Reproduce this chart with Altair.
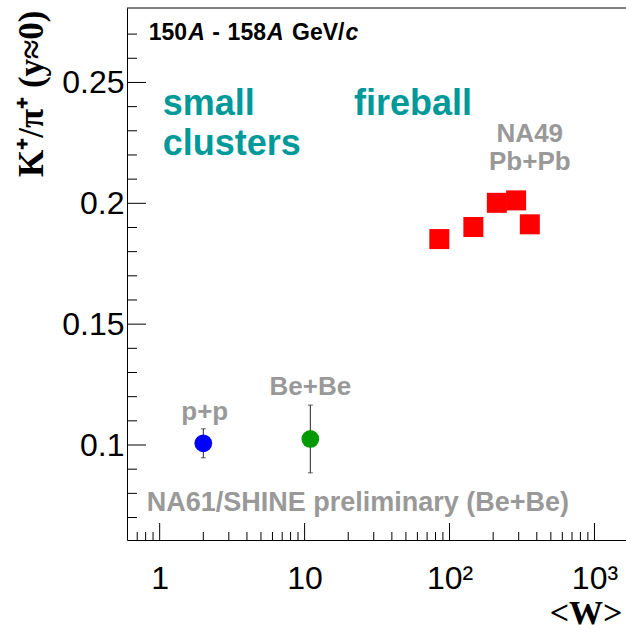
import altair as alt
import pandas as pd

# ---- data -------------------------------------------------------------
# NA49 Pb+Pb (158A GeV/c)
pb_w = [85, 146, 212, 288, 358]
pb_ratio = [0.1852, 0.1902, 0.2002, 0.2012, 0.1913]

# NA61/SHINE p+p and Be+Be
pp_w = [2.0]
pp_ratio = [0.1007]
pp_err = [0.0060]

bebe_w = [10.95]
bebe_ratio = [0.1025]
bebe_err = [0.0140]

# axis ticks
x_major = [1, 10, 100, 1000]
x_major_labels = ["1", "10", "10²", "10³"]
x_minor = [0.7, 0.8, 0.9] + [m * d for d in (1, 10, 100) for m in range(2, 10)]
y_major = [0.1, 0.15, 0.2, 0.25]
y_minor = [round(0.07 + 0.01 * i, 2) for i in range(21)]
y_minor = [v for v in y_minor if v not in y_major]

# ---- layout -----------------------------------------------------------
W, H = 499, 532
XDOM = [0.595, 1650]
YDOM = [0.0607, 0.2808]

xs = alt.Scale(type="log", domain=XDOM, nice=False)
ys = alt.Scale(domain=YDOM, nice=False, zero=False)

SANS = "Liberation Sans"
SERIF = "Liberation Serif"
GRAY = "#999999"
TEAL = "#009999"

x_label_expr = " : ".join(
    f"datum.value == {v} ? '{t}'" for v, t in zip(x_major[:-1], x_major_labels[:-1])
) + f" : '{x_major_labels[-1]}'"

# one axis definition shared by every layer so the layers merge cleanly
X_AXIS = alt.Axis(
    values=x_major, labelExpr=x_label_expr, ticks=False, tickSize=0, grid=False,
    domain=True, domainColor="black", domainWidth=1,
    labelFont=SANS, labelFontSize=32, labelColor="black", labelPadding=23,
    labelFlush=False, labelOverlap=False,
    title="<W>", titleFont=SERIF, titleFontSize=34, titleFontWeight="bold",
    titleColor="black", titleAlign="right", titleAnchor="end",
    titleBaseline="alphabetic", titleX=W - 4, titleY=83)
Y_AXIS = alt.Axis(
    values=y_major, format=".2~f", ticks=False, tickSize=0, grid=False,
    domain=True, domainColor="black", domainWidth=1,
    labelFont=SANS, labelFontSize=32, labelColor="black", labelPadding=3,
    labelFlush=False, labelOverlap=False, labelBaseline="middle",
    title="K⁺/π⁺ (y≈0)", titleFont=SERIF, titleFontSize=35, titleFontWeight="bold",
    titleColor="black", titleAngle=270, titleAlign="right", titleAnchor="end",
    titleBaseline="alphabetic", titleX=-85, titleY=2)


def xq(field):
    return alt.X(f"{field}:Q", scale=xs, axis=X_AXIS)


def yq(field):
    return alt.Y(f"{field}:Q", scale=ys, axis=Y_AXIS)


# inward ticks (ROOT style)
ytick_major = alt.Chart(pd.DataFrame({"v": y_major})).mark_rule(color="black", strokeWidth=1).encode(
    y=yq("v"), x=alt.value(0), x2=alt.value(19))
ytick_minor = alt.Chart(pd.DataFrame({"v": y_minor})).mark_rule(color="black", strokeWidth=1).encode(
    y=yq("v"), x=alt.value(0), x2=alt.value(10))
xtick_major = alt.Chart(pd.DataFrame({"v": x_major})).mark_rule(color="black", strokeWidth=1).encode(
    x=xq("v"), y=alt.value(H - 17), y2=alt.value(H))
xtick_minor = alt.Chart(pd.DataFrame({"v": x_minor})).mark_rule(color="black", strokeWidth=1).encode(
    x=xq("v"), y=alt.value(H - 8), y2=alt.value(H))
top_line = alt.Chart(pd.DataFrame({"v": [0]})).mark_rule(color="black", strokeWidth=1).encode(
    x=alt.value(0), x2=alt.value(W), y=alt.value(0))

# error bars
err_df = pd.DataFrame({
    "w": pp_w + bebe_w,
    "lo": [r - e for r, e in zip(pp_ratio + bebe_ratio, pp_err + bebe_err)],
    "hi": [r + e for r, e in zip(pp_ratio + bebe_ratio, pp_err + bebe_err)],
})
err_rule = alt.Chart(err_df).mark_rule(color="#222222", strokeWidth=1).encode(
    x=xq("w"), y=yq("lo"), y2=alt.Y2("hi"))
cap_df = pd.DataFrame({"w": list(err_df["w"]) * 2, "v": list(err_df["lo"]) + list(err_df["hi"])})
err_caps = alt.Chart(cap_df).mark_tick(color="#222222", orient="horizontal", size=5, thickness=1).encode(
    x=xq("w"), y=yq("v"))

# markers
pp_pts = alt.Chart(pd.DataFrame({"w": pp_w, "r": pp_ratio})).mark_circle(
    size=314, color="#0000ff", opacity=1).encode(x=xq("w"), y=yq("r"))
bebe_pts = alt.Chart(pd.DataFrame({"w": bebe_w, "r": bebe_ratio})).mark_circle(
    size=314, color="#009900", opacity=1).encode(x=xq("w"), y=yq("r"))
pb_pts = alt.Chart(pd.DataFrame({"w": pb_w, "r": pb_ratio})).mark_square(
    size=400, color="#ff0000", opacity=1).encode(x=xq("w"), y=yq("r"))

# annotations
teal_df = pd.DataFrame({
    "x": [1.05, 1.05, 21.9],
    "y": [0.2365, 0.2200, 0.2365],
    "t": ["small", "clusters", "fireball"],
})
teal_txt = alt.Chart(teal_df).mark_text(
    font=SANS, fontSize=36, fontWeight="bold", color=TEAL, align="left", baseline="alphabetic").encode(
    x=xq("x"), y=yq("y"), text="t:N")

gray_df = pd.DataFrame({
    "x": [358, 358, 2.046, 10.95],
    "y": [0.2255, 0.2138, 0.1103, 0.1207],
    "t": ["NA49", "Pb+Pb", "p+p", "Be+Be"],
})
gray_txt = alt.Chart(gray_df).mark_text(
    font=SANS, fontSize=26, fontWeight="bold", color=GRAY, align="center", baseline="alphabetic").encode(
    x=xq("x"), y=yq("y"), text="t:N")

prelim_txt = alt.Chart(pd.DataFrame({"x": [0.813], "y": [0.0727], "t": ["NA61/SHINE preliminary (Be+Be)"]})).mark_text(
    font=SANS, fontSize=27, fontWeight="bold", color=GRAY, align="left", baseline="alphabetic").encode(
    x=xq("x"), y=yq("y"), text="t:N")

# beam momentum header with italic A and c; gaps are added as offsets
HF = 23
head_parts = ["150", "A", "-", "158", "A", "GeV/", "c"]
head_italic = [False, True, False, False, True, False, True]
head_em = [1.668, 0.722, 0.333, 1.668, 0.722, 2.279, 0.556]
head_gap = [0.0, 0.05, 0.33, 0.33, 0.05, 0.36, 0.05]  # space before each part, em
head_layers = []
off = 0.0
for part, it, em, gap in zip(head_parts, head_italic, head_em, head_gap):
    off += gap * HF
    head_layers.append(
        alt.Chart(pd.DataFrame({"x": [0.839], "y": [0.2676], "t": [part]})).mark_text(
            font=SANS, fontSize=HF, fontWeight="bold", fontStyle="italic" if it else "normal",
            color="black", align="left", baseline="alphabetic", dx=off).encode(
            x=xq("x"), y=yq("y"), text="t:N")
    )
    off += em * HF

chart = alt.layer(
    ytick_major, ytick_minor, xtick_major, xtick_minor, top_line,
    err_rule, err_caps, pp_pts, bebe_pts, pb_pts,
    teal_txt, gray_txt, prelim_txt, *head_layers,
).properties(
    width=W, height=H,
    padding={"left": 127, "top": 8, "right": 0, "bottom": 92},
    autosize=alt.AutoSizeParams(type="none"),
    background="white",
).configure_view(stroke=None)

chart.save("out.html", embed_options={"renderer": "svg", "actions": False})
